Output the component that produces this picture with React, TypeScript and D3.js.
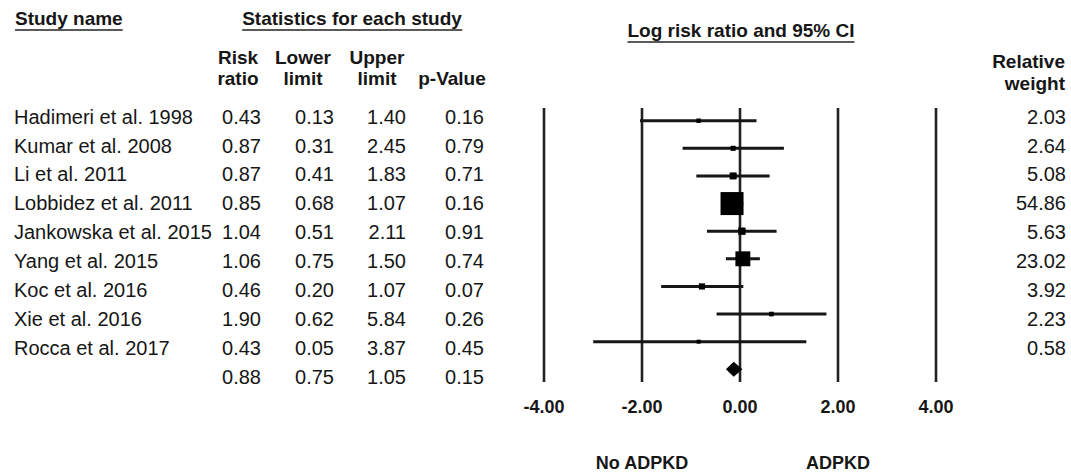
import React, { useEffect, useRef } from "react";
import * as d3 from "d3";

const studies = [
  "Hadimeri et al. 1998",
  "Kumar et al. 2008",
  "Li et al. 2011",
  "Lobbidez et al. 2011",
  "Jankowska et al. 2015",
  "Yang et al. 2015",
  "Koc et al. 2016",
  "Xie et al. 2016",
  "Rocca et al. 2017",
];
const riskRatio = [0.43, 0.87, 0.87, 0.85, 1.04, 1.06, 0.46, 1.9, 0.43];
const lowerLimit = [0.13, 0.31, 0.41, 0.68, 0.51, 0.75, 0.2, 0.62, 0.05];
const upperLimit = [1.4, 2.45, 1.83, 1.07, 2.11, 1.5, 1.07, 5.84, 3.87];
const pValue = [0.16, 0.79, 0.71, 0.16, 0.91, 0.74, 0.07, 0.26, 0.45];
const weight = [2.03, 2.64, 5.08, 54.86, 5.63, 23.02, 3.92, 2.23, 0.58];
const summary = { rr: 0.88, lo: 0.75, hi: 1.05, p: 0.15 };
const ticks = [-4, -2, 0, 2, 4];

const INK = "#161616";
const FONT = "'Liberation Sans', Arial, Helvetica, sans-serif";

const App = () => {
  const ref = useRef<SVGSVGElement>(null);

  useEffect(() => {
    document.body.style.margin = "0";
    const svg = d3.select(ref.current);
    svg.selectAll("*").remove();

    const x = d3.scaleLinear().domain([-4, 4]).range([544, 936]);
    // table rows and plot rows do not share the exact same spacing in the source
    const yText = d3.scaleLinear().domain([0, 9]).range([116.5, 376.5]);
    const yPlot = d3.scaleLinear().domain([0, 9]).range([120.7, 369.3]);
    const size = d3.scaleSqrt().domain([0, 54.86]).range([0, 23]);

    const g = svg.append("g").attr("font-family", FONT).attr("fill", INK);

    // headers
    const underlined = (txt: string, px: number, py: number, anchor: string) => {
      const t = g
        .append("text")
        .attr("x", px)
        .attr("y", py)
        .attr("text-anchor", anchor)
        .attr("font-size", 19)
        .attr("font-weight", "bold")
        .text(txt);
      const b = (t.node() as SVGTextElement).getBBox();
      g.append("line")
        .attr("x1", b.x)
        .attr("x2", b.x + b.width)
        .attr("y1", py + 5)
        .attr("y2", py + 5)
        .attr("stroke", "#5a5a5a")
        .attr("stroke-width", 2);
    };
    underlined("Study name", 15, 25, "start");
    underlined("Statistics for each study", 352, 25, "middle");
    underlined("Log risk ratio and 95% CI", 741, 37, "middle");

    const colHeads = [
      { x: 238, a: "Risk", b: "ratio" },
      { x: 303, a: "Lower", b: "limit" },
      { x: 377, a: "Upper", b: "limit" },
      { x: 452, a: "", b: "p-Value" },
    ];
    colHeads.forEach((c) => {
      g.append("text").attr("x", c.x).attr("y", 64).attr("text-anchor", "middle")
        .attr("font-size", 19).attr("font-weight", "bold").text(c.a);
      g.append("text").attr("x", c.x).attr("y", 85).attr("text-anchor", "middle")
        .attr("font-size", 19).attr("font-weight", "bold").text(c.b);
    });
    g.append("text").attr("x", 1065).attr("y", 68).attr("text-anchor", "end")
      .attr("font-size", 19).attr("font-weight", "bold").text("Relative");
    g.append("text").attr("x", 1065).attr("y", 90).attr("text-anchor", "end")
      .attr("font-size", 19).attr("font-weight", "bold").text("weight");

    // table body
    const cols = [
      { x: 261, vals: [...riskRatio, summary.rr] },
      { x: 334, vals: [...lowerLimit, summary.lo] },
      { x: 406, vals: [...upperLimit, summary.hi] },
      { x: 484, vals: [...pValue, summary.p] },
    ];
    studies.forEach((s, i) => {
      g.append("text").attr("x", 14).attr("y", yText(i) + 7.2)
        .attr("font-size", 20).text(s);
      g.append("text").attr("x", 1066).attr("y", yText(i) + 7.2)
        .attr("text-anchor", "end").attr("font-size", 20).text(weight[i].toFixed(2));
    });
    cols.forEach((c) => {
      c.vals.forEach((v, i) => {
        g.append("text").attr("x", c.x).attr("y", yText(i) + 7.2)
          .attr("text-anchor", "end").attr("font-size", 20).text(v.toFixed(2));
      });
    });

    // reference lines
    g.selectAll(".vline")
      .data(ticks)
      .join("line")
      .attr("x1", (d) => x(d))
      .attr("x2", (d) => x(d))
      .attr("y1", 108)
      .attr("y2", 382)
      .attr("stroke", "#222")
      .attr("stroke-width", 2.6);

    g.selectAll(".tick")
      .data(ticks)
      .join("text")
      .attr("x", (d) => x(d))
      .attr("y", 412.5)
      .attr("text-anchor", "middle")
      .attr("font-size", 18)
      .attr("font-weight", "bold")
      .text((d) => d.toFixed(2));

    // study CIs and boxes
    studies.forEach((_, i) => {
      const cy = yPlot(i);
      g.append("line")
        .attr("x1", x(Math.log(lowerLimit[i])))
        .attr("x2", x(Math.log(upperLimit[i])))
        .attr("y1", cy)
        .attr("y2", cy)
        .attr("stroke", INK)
        .attr("stroke-width", 3);
      const s = Math.max(size(weight[i]), 4);
      g.append("rect")
        .attr("x", x(Math.log(riskRatio[i])) - s / 2)
        .attr("y", cy - s / 2)
        .attr("width", s)
        .attr("height", s)
        .attr("fill", "#000");
    });

    // summary diamond
    const sy = yPlot(9);
    const dx = [x(Math.log(summary.lo)), x(Math.log(summary.rr)), x(Math.log(summary.hi))];
    g.append("path")
      .attr("d", `M${dx[0]},${sy}L${dx[1]},${sy - 7.5}L${dx[2]},${sy}L${dx[1]},${sy + 7.5}Z`)
      .attr("fill", "#000");

    g.append("text").attr("x", x(-2)).attr("y", 468.5).attr("text-anchor", "middle")
      .attr("font-size", 18).attr("font-weight", "bold").text("No ADPKD");
    g.append("text").attr("x", x(2)).attr("y", 468.5).attr("text-anchor", "middle")
      .attr("font-size", 18).attr("font-weight", "bold").text("ADPKD");
  }, []);

  return (
    <svg
      ref={ref}
      width={1071}
      height={472}
      style={{ position: "absolute", left: 0, top: 0, background: "#fff" }}
    />
  );
};

export default App;
